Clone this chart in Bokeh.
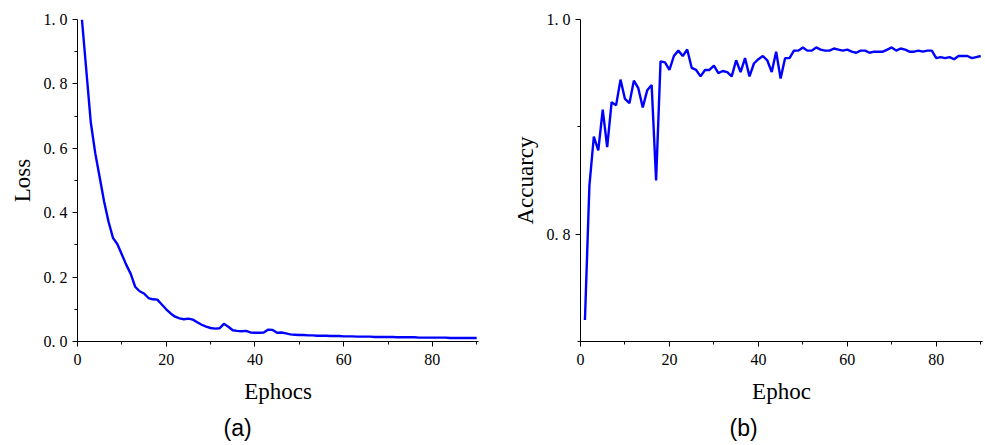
from bokeh.plotting import figure
from bokeh.layouts import row
from bokeh.models import Range1d, FixedTicker, CustomJSTickFormatter, Title
from bokeh.embed import file_html
from bokeh.resources import INLINE

# Training history per epoch
epochs = list(range(1, 91))

loss = [
    1.000, 0.840, 0.680, 0.585, 0.510, 0.435, 0.372, 0.322, 0.302, 0.270,
    0.238, 0.210, 0.170, 0.156, 0.149, 0.135, 0.131, 0.130, 0.115, 0.100,
    0.087, 0.077, 0.072, 0.069, 0.071, 0.068, 0.060, 0.052, 0.046, 0.042,
    0.040, 0.041, 0.055, 0.046, 0.035, 0.033, 0.032, 0.033, 0.028, 0.027,
    0.027, 0.028, 0.037, 0.036, 0.027, 0.028, 0.025, 0.022, 0.021, 0.020,
    0.020, 0.019, 0.019, 0.018, 0.018, 0.018, 0.017, 0.017, 0.017, 0.016,
    0.016, 0.016, 0.015, 0.015, 0.015, 0.015, 0.014, 0.014, 0.014, 0.014,
    0.014, 0.013, 0.013, 0.013, 0.013, 0.013, 0.012, 0.012, 0.012, 0.012,
    0.012, 0.012, 0.012, 0.011, 0.011, 0.011, 0.011, 0.011, 0.011, 0.011,
]

accuracy = [
    0.720, 0.845, 0.891, 0.878, 0.916, 0.881, 0.923, 0.920, 0.944, 0.926,
    0.922, 0.943, 0.936, 0.918, 0.934, 0.939, 0.850, 0.961, 0.960, 0.953,
    0.966, 0.971, 0.966, 0.972, 0.955, 0.953, 0.947, 0.953, 0.953, 0.957,
    0.950, 0.952, 0.951, 0.947, 0.962, 0.951, 0.964, 0.947, 0.959, 0.963,
    0.966, 0.962, 0.951, 0.970, 0.945, 0.964, 0.964, 0.971, 0.971, 0.974,
    0.971, 0.971, 0.974, 0.972, 0.971, 0.971, 0.973, 0.972, 0.971, 0.972,
    0.970, 0.969, 0.971, 0.971, 0.969, 0.970, 0.970, 0.970, 0.972, 0.974,
    0.971, 0.973, 0.972, 0.970, 0.970, 0.971, 0.970, 0.971, 0.971, 0.964,
    0.965, 0.964, 0.965, 0.963, 0.966, 0.966, 0.966, 0.964, 0.965, 0.966,
]

epoch_ticks = [0, 20, 40, 60, 80]
epoch_minor = [10, 30, 50, 70, 90]
loss_ticks = [0.0, 0.2, 0.4, 0.6, 0.8, 1.0]
loss_minor = [0.1, 0.3, 0.5, 0.7, 0.9]
acc_ticks = [0.8, 1.0]
acc_minor = [0.7, 0.9]

SERIF = "Liberation Serif"
SANS = "Liberation Sans"


def panel(values, y_lo, y_hi, yticks, yminor, ylabel, xlabel, caption,
          border_left, border_right, frame_w, caption_offset):
    p = figure(
        frame_width=frame_w, frame_height=322,
        x_range=Range1d(0, 90.4), y_range=Range1d(y_lo, y_hi),
        min_border_left=border_left, min_border_right=border_right,
        min_border_top=19, min_border_bottom=104,
        output_backend="svg", toolbar_location=None,
        background_fill_color="white", border_fill_color="white",
    )
    p.outline_line_color = None
    p.xgrid.visible = False
    p.ygrid.visible = False

    p.line(epochs, values, line_color="#0000ff", line_width=2.4)

    p.xaxis.ticker = FixedTicker(ticks=epoch_ticks, minor_ticks=epoch_minor)
    p.yaxis.ticker = FixedTicker(ticks=yticks, minor_ticks=yminor)
    p.yaxis.formatter = CustomJSTickFormatter(
        code="return tick.toFixed(1).replace('.', '. ');")

    for ax in (p.xaxis[0], p.yaxis[0]):
        ax.axis_line_color = "black"
        ax.axis_line_width = 1
        ax.major_tick_line_color = "black"
        ax.minor_tick_line_color = "black"
        ax.major_tick_in = 0
        ax.major_tick_out = 5
        ax.minor_tick_in = 0
        ax.minor_tick_out = 3
        ax.major_label_text_font = SERIF
        ax.major_label_text_font_size = "16px"
        ax.major_label_text_color = "black"
        ax.axis_label_text_font = SERIF
        ax.axis_label_text_font_size = "23px"
        ax.axis_label_text_font_style = "normal"
        ax.axis_label_text_color = "black"

    p.xaxis.axis_label = xlabel
    p.yaxis.axis_label = ylabel
    p.xaxis.major_label_standoff = 7
    p.xaxis.axis_label_standoff = 11
    p.yaxis.major_label_standoff = 5
    p.yaxis.axis_label_standoff = 6

    p.add_layout(Title(text=caption, align="left", offset=caption_offset,
                       text_font=SANS, text_font_size="23px",
                       text_font_style="normal", text_color="black",
                       standoff=12), "below")
    return p


left = panel(loss, 0.0, 1.0, loss_ticks, loss_minor, "Loss", "Ephocs", "(a)",
             77, 22, 401, 146)
right = panel(accuracy, 0.7, 1.0, acc_ticks, acc_minor, "Accuarcy", "Ephoc", "(b)",
              80, 3, 402, 149)

layout = row(left, right)
open("out.html", "w").write(file_html(layout, INLINE))
